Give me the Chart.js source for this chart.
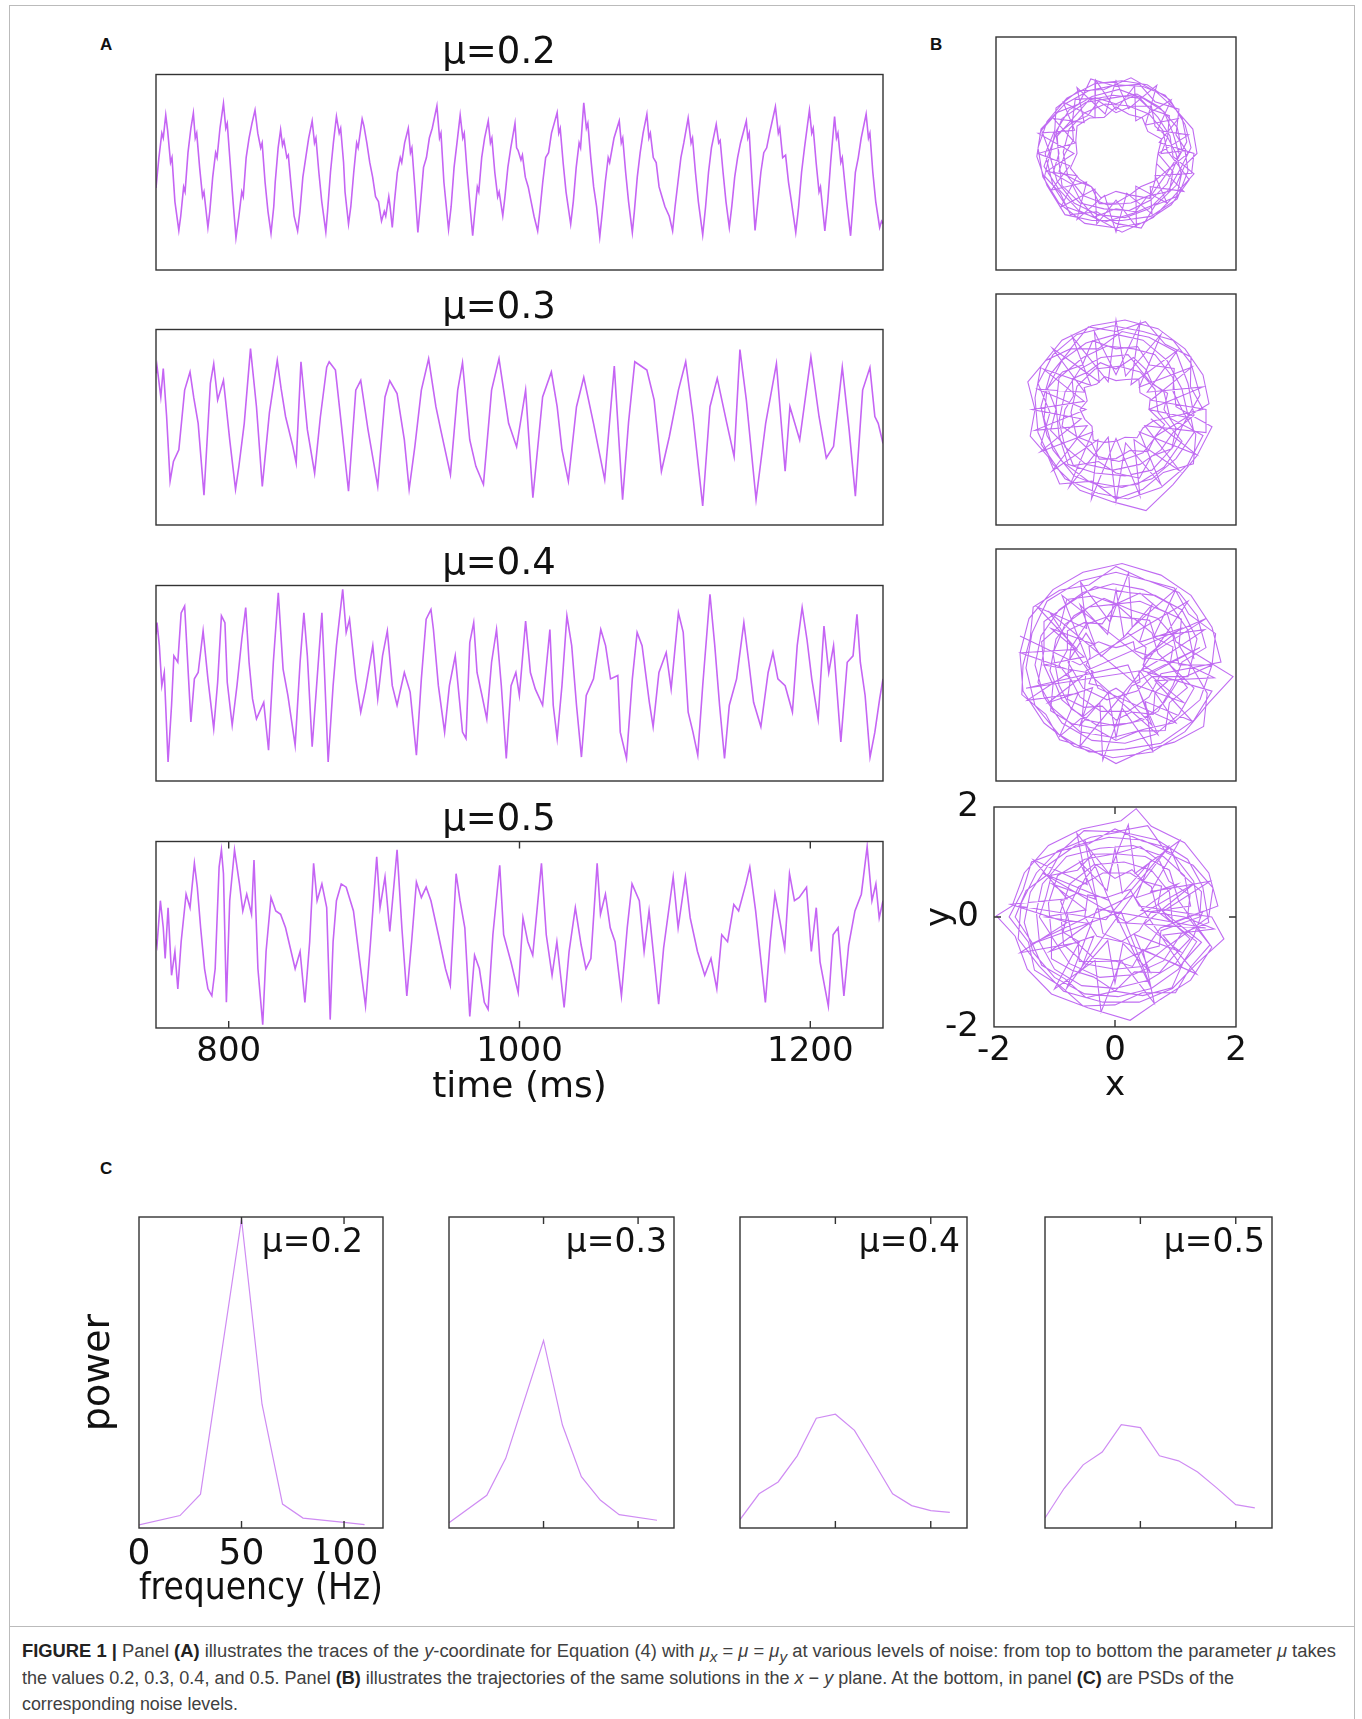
<!DOCTYPE html>
<html>
<head>
<meta charset="utf-8">
<title>Figure 1</title>
<style>
  html, body { margin: 0; padding: 0; background: #fff; }
  body { width: 1362px; height: 1719px; position: relative; overflow: hidden; }
  canvas { position: absolute; }
  .frame { position: absolute; left: 9px; top: 5px; width: 1346px; height: 1760px; border: 1px solid #bbb; box-sizing: border-box; }
  .sep { position: absolute; left: 9px; top: 1626px; width: 1346px; border-top: 1px solid #bbb; }
  .panel { position: absolute; font: bold 17px "Liberation Sans", Arial, sans-serif; color: #111; line-height: 1; }
  .cap { position: absolute; left: 22px; font: 18px "Liberation Sans Narrow", "Liberation Sans", sans-serif; color: #404040; white-space: nowrap; transform-origin: 0 50%; line-height: 1; }
  .cap b { color: #222; }
</style>
</head>
<body>
<div class="frame"></div>
<div class="sep"></div>
<div class="panel" style="left:100px;top:36px">A</div>
<div class="panel" style="left:930px;top:36px">B</div>
<div class="panel" style="left:100px;top:1160px">C</div>

<div class="cap" data-w="1314" style="top:1642px"><b>FIGURE 1 |</b> Panel <b>(A)</b> illustrates the traces of the <i>y</i>-coordinate for Equation (4) with <i>μ<sub>x</sub></i> = <i>μ</i> = <i>μ<sub>y</sub></i> at various levels of noise: from top to bottom the parameter <i>μ</i> takes</div>
<div class="cap" data-w="1212" style="top:1669px">the values 0.2, 0.3, 0.4, and 0.5. Panel <b>(B)</b> illustrates the trajectories of the same solutions in the <i>x</i> − <i>y</i> plane. At the bottom, in panel <b>(C)</b> are PSDs of the</div>
<div class="cap" data-w="216" style="top:1695px">corresponding noise levels.</div>

<script src="https://cdn.jsdelivr.net/npm/chart.js"></script>
<script>
// niveles de ruido
const noiseLabels = ['μ=0.2', 'μ=0.3', 'μ=0.4', 'μ=0.5'];
const timeTicks = [800, 1000, 1200];
const planeTicks = [-2, 0, 2];
const freqTicks = [0, 50, 100];

// panel A: coordenada y frente al tiempo (ms), [t, y]
const trace02 = [[750,-0.32],[752,0.3],[754,0.8],[755,0.7],[756.7,1.17],[758,0.85],[760,0.2],[761,0.3],[763,-0.6],[765.7,-1.19],[767,-0.9],[769,-0.3],[770,-0.4],[772,0.4],[774,0.9],[775.7,1.21],[777,0.7],[778,0.8],[780,0.1],[782,-0.5],[783,-0.4],[785.7,-1.13],[787,-0.8],[789,-0.1],[791,0.4],[792,0.3],[794,0.9],[796.4,1.41],[798,0.9],[799,1.0],[801,0.2],[803,-0.6],[805,-1.34],[807,-0.9],[809,-0.4],[810,-0.5],[812,0.3],[814,0.7],[816,1.0],[818.1,1.27],[820,0.8],[822,0.5],[823,0.6],[825,-0.2],[827,-0.8],[829.1,-1.25],[831,-0.7],[832,-0.2],[834,0.5],[835.7,0.87],[837,0.55],[838,0.65],[840,0.3],[841,0.35],[843,-0.3],[845,-0.9],[847.4,-1.2],[849,-0.8],[851,-0.1],[853,0.3],[855,0.7],[857.4,1.05],[859,0.6],[860,0.7],[862,0.0],[864,-0.6],[866.8,-1.22],[868,-0.8],[870,0.0],[872,0.6],[874.1,1.14],[876,0.8],[877,0.9],[879,0.2],[880,-0.4],[882.4,-1.06],[884,-0.7],[886,0.0],[888,0.6],[889,0.5],[891.8,1.09],[893,0.95],[895,0.6],[897,0.2],[899,-0.1],[901,-0.5],[903,-0.6],[905.1,-1.0],[907,-0.8],[908,-0.9],[910.1,-0.5],[911,-0.7],[912.5,-1.13],[914,-0.6],[916,0.0],[918,0.3],[919,0.2],[921,0.6],[923.5,0.9],[925,0.4],[926,0.5],[928,-0.3],[930.1,-1.23],[932,-0.6],[934,0.1],[936,0.3],[938,0.7],[940,0.9],[943.2,1.36],[945,0.7],[946,0.8],[948,-0.2],[951.2,-1.17],[953,-0.7],[955,0.1],[957,0.6],[959.2,1.17],[961,0.7],[962,0.8],[964,0.0],[966,-0.7],[967.8,-1.3],[969,-0.9],[971,-0.3],[972,-0.4],[974,0.3],[976,0.7],[978.5,1.05],[980,0.6],[981,0.7],[983,0.0],[985,-0.5],[986,-0.4],[988.5,-0.89],[990,-0.5],[992,0.1],[994,0.5],[996.9,1.0],[998,0.5],[999,0.45],[1001,0.25],[1002,0.35],[1004,-0.1],[1006,-0.3],[1008,-0.6],[1010,-0.9],[1012.5,-1.2],[1014,-0.8],[1016,-0.2],[1018,0.3],[1020,0.4],[1022,0.8],[1025.9,1.22],[1027,0.8],[1028,0.9],[1030,0.2],[1032,-0.4],[1035.2,-1.06],[1037,-0.6],[1039,0.1],[1041,0.6],[1042,0.5],[1044.2,1.42],[1046,0.9],[1047,1.0],[1049,0.3],[1051,-0.3],[1053,-0.7],[1055.2,-1.32],[1057,-0.8],[1059,-0.2],[1061,0.3],[1062,0.2],[1065,0.7],[1068.6,1.05],[1070,0.6],[1071,0.7],[1073,0.0],[1075,-0.6],[1077.6,-1.23],[1079,-0.8],[1081,-0.1],[1083,0.4],[1085,0.8],[1087.6,1.19],[1089,0.7],[1090,0.8],[1092,0.3],[1094,0.2],[1096,-0.3],[1098,-0.5],[1100,-0.7],[1103,-0.9],[1105.3,-1.2],[1107,-0.7],[1109,-0.2],[1111,0.3],[1113,0.6],[1116,1.11],[1118,0.6],[1119,0.7],[1121,0.0],[1123,-0.6],[1126,-1.28],[1128,-0.7],[1130,0.0],[1132,0.5],[1135.3,0.98],[1137,0.6],[1138,0.65],[1140,0.0],[1142,-0.6],[1144.3,-1.13],[1146,-0.7],[1148,-0.1],[1150,0.3],[1152,0.6],[1156,1.05],[1157,0.7],[1158,0.8],[1160,-0.2],[1162,-1.19],[1164,-0.6],[1166,0.0],[1168,0.4],[1170,0.5],[1172,0.8],[1176,1.34],[1178,0.8],[1179,0.9],[1181,0.3],[1183,0.35],[1185,-0.2],[1187,-0.6],[1190,-1.23],[1192,-0.7],[1194,0.0],[1196,0.5],[1199.4,1.27],[1201,0.8],[1202,0.9],[1204,0.2],[1206,-0.4],[1207,-0.3],[1210,-1.2],[1212,-0.6],[1214,0.2],[1216.7,1.14],[1218,0.7],[1219,0.8],[1221,0.2],[1222,0.3],[1225,-0.6],[1227.7,-1.3],[1229,-0.8],[1231,0.0],[1233,0.3],[1235,0.7],[1238.4,1.19],[1240,0.7],[1241,0.8],[1243,0.0],[1245,-0.6],[1247.7,-1.13],[1249,-1.0],[1250,-1.05]];

const trace03 = [[750,1.1],[750.7,1.25],[753.3,0.62],[755,1.2],[757.3,0.22],[759.7,-1.1],[762,-0.7],[765.7,-0.46],[769.7,0.76],[773.4,1.13],[776,0.6],[779,0.08],[783,-1.39],[787.4,0.9],[789.7,1.3],[792.4,0.56],[796.4,0.96],[800.7,-0.26],[804.7,-1.27],[807,-0.8],[810.7,0.08],[815,1.61],[819.1,0.42],[823.1,-1.21],[828,0.3],[833.4,1.37],[836,0.8],[839.1,0.22],[844.1,-0.39],[846.4,-0.73],[849.7,1.34],[854.1,-0.05],[859.1,-0.94],[863,0.2],[867.4,1.23],[869.1,1.34],[873.4,1.17],[877.4,0.08],[882.4,-1.31],[887.4,0.76],[890.8,0.96],[895.8,-0.05],[902.5,-1.21],[907.5,0.62],[910.8,0.95],[915.8,0.69],[920.8,-0.26],[924.1,-1.27],[928,-0.4],[932.5,0.76],[937.5,1.4],[942.5,0.42],[945.8,-0.05],[952.5,-0.97],[957.5,0.76],[960.8,1.32],[965.8,-0.26],[970,-0.8],[975.2,-1.17],[980.8,0.76],[985.9,1.4],[992.5,0.08],[998,-0.4],[1004.2,0.76],[1009.2,-1.44],[1015.9,0.62],[1021.9,1.13],[1025.9,0.42],[1029.2,-0.46],[1033.6,-1.1],[1039.2,0.42],[1044.2,1.02],[1050.9,0.08],[1058.6,-1.07],[1065.2,1.25],[1070.9,-1.48],[1075,0.1],[1079.3,1.34],[1087.6,1.17],[1092.6,0.56],[1097.6,-0.9],[1103,-0.2],[1109.3,0.76],[1114.3,1.34],[1119.3,0.22],[1126,-1.61],[1131,0.42],[1136,1.0],[1142.6,0.08],[1147.6,-0.6],[1151.6,1.59],[1156,0.56],[1162.7,-1.48],[1169.3,0.08],[1176.7,1.3],[1182.7,-0.9],[1186,0.42],[1192.7,-0.26],[1200.4,1.44],[1206,0.22],[1211,-0.63],[1216,-0.39],[1222,1.23],[1226.7,-0.05],[1231,-1.41],[1236,0.76],[1241,1.22],[1244.4,0.22],[1246.7,0.08],[1250,-0.33]];

const trace04 = [[750,1.0],[750.7,1.24],[752.3,0.77],[754.0,-0.05],[755.7,0.22],[758.3,-1.61],[760.7,-0.45],[762.3,0.56],[765.0,0.43],[767.3,1.44],[769.7,1.58],[772.4,0.09],[774.0,-0.79],[776.4,0.09],[779.0,0.22],[782.4,1.07],[785.7,0.09],[789.7,-0.93],[792.4,0.02],[795.0,1.38],[797.4,1.24],[799.0,0.02],[802.4,-0.86],[805.7,-0.05],[809.0,0.90],[811.7,1.55],[814.0,0.43],[816.4,-0.32],[819.1,-0.73],[824.1,-0.39],[827.4,-1.37],[830.7,0.43],[834.1,1.85],[837.4,0.29],[840.7,-0.25],[845.7,-1.27],[849.1,0.43],[851.7,1.44],[854.1,0.56],[857.4,-1.30],[860.8,0.09],[864.1,1.44],[865.8,0.29],[868.4,-1.61],[871.8,-0.05],[874.1,0.77],[878.4,1.92],[880.8,1.04],[883.1,1.31],[887.4,0.09],[890.8,-0.59],[894.1,-0.12],[899.1,0.77],[902.5,-0.32],[905.8,0.56],[909.1,1.07],[912.5,-0.05],[915.8,-0.45],[920.8,0.22],[924.8,-0.18],[929.1,-1.47],[932.5,0.09],[935.8,1.31],[939.1,1.51],[940.8,1.10],[944.2,-0.05],[948.5,-1.00],[951.8,-0.05],[955.8,0.56],[960.8,-1.00],[963.2,-1.13],[965.8,0.83],[968.5,1.24],[970.8,0.22],[974.2,-0.25],[977.5,-0.73],[980.8,0.43],[984.2,1.10],[987.5,-0.05],[990.9,-1.54],[994.2,-0.05],[997.5,0.22],[999.9,-0.25],[1004.2,1.27],[1007.5,0.22],[1010.9,-0.12],[1015.9,-0.45],[1020.9,1.10],[1023.2,-0.45],[1025.9,-1.13],[1029.2,-0.05],[1032.6,1.38],[1035.9,0.77],[1039.2,-0.45],[1042.6,-1.51],[1045.9,-0.25],[1050.9,0.09],[1055.9,1.10],[1059.2,0.77],[1062.6,0.09],[1067.6,0.16],[1069.3,-1.00],[1073.6,-1.54],[1077.6,0.09],[1080.9,1.04],[1084.3,0.77],[1089.3,-0.39],[1091.9,-0.89],[1095.9,0.22],[1100.9,0.63],[1104.3,-0.12],[1109.3,1.44],[1112.6,1.04],[1116.0,-0.59],[1119.3,-1.00],[1122.6,-1.47],[1126.0,-0.05],[1131.0,1.82],[1134.3,0.77],[1137.6,-0.45],[1141.0,-1.54],[1144.3,-0.45],[1149.3,0.09],[1154.3,1.24],[1157.7,0.43],[1161.0,-0.39],[1166.0,-0.89],[1171.0,0.22],[1174.3,0.63],[1177.7,0.09],[1182.7,-0.05],[1187.7,-0.59],[1191.0,0.77],[1194.4,1.55],[1197.7,0.90],[1201.0,0.09],[1205.4,-0.73],[1209.4,1.17],[1212.7,0.22],[1216.0,0.77],[1221.0,-1.20],[1225.4,0.43],[1229.4,0.56],[1232.1,1.41],[1234.4,0.43],[1237.7,-0.25],[1241.1,-1.51],[1244.4,-1.00],[1247.7,-0.32],[1250,0.09]];

const trace05 = [[750,-0.1],[750.7,-0.22],[753.0,0.73],[755.0,0.15],[756.3,-0.51],[758.3,0.58],[760.7,-0.87],[763.0,-0.36],[765.0,-1.16],[767.3,-0.15],[770.7,0.87],[773.4,0.58],[776.4,1.53],[778.4,1.02],[780.7,0.15],[783.4,-0.73],[785.7,-1.16],[788.4,-1.31],[790.7,-0.73],[793.4,1.45],[795.0,1.82],[796.4,1.31],[798.4,-1.45],[800.7,0.73],[804.0,1.82],[807.4,1.09],[809.7,0.51],[812.4,0.87],[815.7,0.44],[817.4,1.60],[820.1,-0.73],[823.4,-1.93],[825.7,-0.36],[829.1,0.80],[832.4,0.51],[835.7,0.44],[839.1,0.15],[842.4,-0.29],[845.7,-0.73],[849.1,-0.36],[852.4,-1.45],[855.7,-0.15],[858.4,1.53],[860.8,0.73],[864.1,1.09],[867.4,0.58],[869.8,-1.82],[871.8,-0.15],[874.1,0.73],[877.4,1.09],[880.8,1.02],[885.8,0.51],[890.8,-0.73],[894.1,-1.53],[897.4,-0.22],[901.8,1.67],[904.1,0.58],[907.5,1.24],[910.8,0.07],[915.8,1.82],[919.1,0.15],[922.5,-1.31],[925.8,-0.15],[929.1,1.13],[932.5,0.80],[935.8,1.02],[939.1,0.73],[944.2,0.00],[949.1,-0.73],[952.4,-1.09],[956.4,1.31],[959.1,0.73],[962.4,0.15],[965.8,-1.75],[969.1,-0.44],[972.4,-0.73],[975.8,-1.45],[978.4,-1.60],[981.7,0.00],[986.4,1.49],[989.1,0.00],[994.1,-0.58],[999.1,-1.24],[1002.4,0.36],[1005.7,-0.15],[1009.1,-0.44],[1015.1,1.53],[1018.4,0.00],[1022.4,-0.87],[1025.7,-0.15],[1030.7,-1.56],[1034.1,-0.36],[1038.4,0.58],[1042.4,-0.22],[1045.7,-0.73],[1049.1,-0.51],[1053.4,1.53],[1055.7,0.44],[1059.1,0.87],[1062.4,0.15],[1065.7,-0.15],[1070.1,-1.31],[1074.1,0.15],[1077.4,1.09],[1082.4,0.73],[1085.7,-0.36],[1089.1,0.51],[1095.7,-1.49],[1099.1,-0.29],[1105.7,1.24],[1109.1,0.15],[1114.1,1.24],[1117.4,0.36],[1122.4,-0.36],[1127.4,-0.87],[1131.7,-0.51],[1135.7,-1.16],[1139.1,0.00],[1143.1,-0.15],[1147.4,0.65],[1150.7,0.51],[1155.7,1.09],[1158.4,1.45],[1162.4,0.51],[1169.1,-1.45],[1172.4,-0.15],[1175.7,0.87],[1179.1,0.29],[1182.4,-0.29],[1185.7,1.31],[1189.1,0.73],[1192.4,0.80],[1197.4,1.02],[1200.7,-0.36],[1204.1,0.58],[1206.7,-0.58],[1212.4,-1.53],[1215.7,0.00],[1219.1,0.15],[1223.1,-1.31],[1226.4,-0.22],[1230.7,0.51],[1235.1,0.87],[1239.1,1.89],[1242.4,0.73],[1245.1,1.09],[1247.4,0.36],[1250,0.73]];

// panel B: trayectorias en el plano x-y, [x, y]
const orbit02 = [[1.05,0.00],[0.95,0.35],[0.80,0.72],[0.45,0.95],[0.05,1.10],[-0.40,0.98],[-0.78,0.75],[-1.02,0.35],[-1.10,-0.05],[-0.98,-0.48],[-0.70,-0.85],[-0.30,-1.05],[0.15,-1.10],[0.55,-0.95],[0.88,-0.62],[1.08,-0.25],
  [1.25,0.10],[1.15,0.50],[0.90,0.92],[0.52,1.18],[0.10,1.25],[-0.35,1.20],[-0.82,0.95],[-1.15,0.55],[-1.30,0.10],[-1.22,-0.40],[-0.95,-0.85],[-0.52,-1.20],[0.00,-1.28],[0.48,-1.18],[0.92,-0.88],[1.22,-0.45],
  [0.85,0.05],[0.78,0.40],[0.55,0.68],[0.20,0.82],[-0.18,0.85],[-0.52,0.70],[-0.78,0.42],[-0.88,0.02],[-0.80,-0.40],[-0.55,-0.72],[-0.15,-0.88],[0.25,-0.85],[0.60,-0.70],[0.82,-0.38],
  [1.10,0.05],[1.02,0.45],[0.72,0.80],[0.35,1.02],[-0.08,0.95],[-0.50,0.88],[-0.90,0.60],[-1.05,0.20],[-1.20,-0.22],[-0.95,-0.62],[-0.62,-0.98],[-0.20,-1.18],[0.30,-1.02],[0.70,-0.85],[1.00,-0.55],[1.15,-0.20],
  [1.35,0.00],[1.28,0.42],[1.00,0.75],[0.68,1.05],[0.25,1.30],[-0.20,1.10],[-0.62,1.08],[-1.00,0.78],[-1.02,0.40],[-1.18,0.00],[-1.05,-0.55],[-0.82,-0.92],[-0.35,-1.10],[0.10,-1.35],[0.62,-1.10],[0.95,-0.75],[1.30,-0.35],
  [0.95,-0.05],[0.90,0.30],[0.70,0.62],[0.40,0.95],[-0.05,1.00],[-0.45,0.92],[-0.72,0.60],[-0.98,0.30],[-0.95,-0.15],[-0.90,-0.55],[-0.60,-0.85],[-0.20,-0.95],[0.22,-0.98],[0.58,-0.80],[0.85,-0.52],[1.00,-0.15],
  [1.18,0.20],[1.10,0.62],[0.82,1.00],[0.45,1.15],[0.02,1.18],[-0.45,1.08],[-0.85,0.85],[-1.25,0.42],[-1.32,-0.05],[-1.15,-0.55],[-0.85,-1.05],[-0.40,-1.15],[0.10,-1.15],[0.58,-1.08],[1.02,-0.78],[1.20,-0.30],[1.15,0.05],
  [0.75,0],[0.86,0.28],[0.65,0.47],[0.59,0.81],[0.26,0.81],[0,0.70],[-0.29,0.90],[-0.47,0.65],[-0.73,0.53],[-0.71,0.23],[-0.85,0],[-0.95,-0.31],[-0.65,-0.47],[-0.41,-0.57],[-0.28,-0.86],[0,-0.85],[0.23,-0.71],[0.56,-0.77],[0.65,-0.47],[0.86,-0.28],
  [1.2,0],[1.0,0.32],[1.05,0.76],[0.65,0.89],[0.39,1.19],[0,1.15],[-0.42,1.28],[-0.62,0.85],[-0.97,0.71],[-1.24,0.40],[-1.1,0],[-1.19,-0.39],[-0.93,-0.68],[-0.76,-1.05],[-0.32,-1.0],[0,-1.2],[0.42,-1.28],[0.65,-0.89],[1.01,-0.74],[1.09,-0.36],
  [1.0,0],[0.86,0.28],[0.89,0.65],[0.56,0.77],[0.32,1.0],[0,0.85],[-0.31,0.95],[-0.68,0.93],[-0.73,0.53],[-1.0,0.32],[-0.95,0],[-1.05,-0.34],[-0.73,-0.53],[-0.59,-0.81],[-0.36,-1.09],[0,-0.95],[0.32,-1.0],[0.53,-0.73],[0.89,-0.65],[0.95,-0.31],
  [0.7,0],[0.76,0.25],[0.53,0.38],[0.44,0.61],[0.22,0.67],[0,0.8],[-0.2,0.62],[-0.44,0.61],[-0.65,0.47],[-0.67,0.22],[-0.65,0],[-0.76,-0.25],[-0.61,-0.44],[-0.41,-0.57],[-0.25,-0.76],[0,-0.65],[0.23,-0.71],[0.41,-0.57],[0.65,-0.47],[0.67,-0.22],
  [0.70,0],[1.21,0.32],[0.69,0.40],[0.92,0.92],[0.33,0.56],[0.31,1.16],[0,0.75],[-0.34,1.26],[-0.35,0.61],[-0.88,0.88],[-0.69,0.40],[-1.30,0.35],[-0.70,0],[-1.16,-0.31],[-0.65,-0.38],[-0.92,-0.92],[-0.35,-0.61],[-0.32,-1.21],[0,-0.8],[0.34,-1.26],[0.33,-0.56],[0.85,-0.85],[0.65,-0.38],[1.26,-0.34],
  [1.3,0],[0.72,0.19],[1.04,0.60],[0.49,0.49],[0.68,1.17],[0.21,0.77],[0,1.25],[-0.18,0.68],[-0.65,1.13],[-0.53,0.53],[-1.04,0.60],[-0.68,0.18],[-1.3,0],[-0.77,-0.21],[-1.08,-0.63],[-0.49,-0.49],[-0.65,-1.13],[-0.19,-0.72],[0,-1.35],[0.18,-0.68],[0.60,-1.04],[0.57,-0.57],[1.13,-0.65],[0.68,-0.18]];

const orbit03 = [[1.20,-0.10],[1.10,0.35],[0.85,0.85],[0.45,1.20],[0.00,1.30],[-0.50,1.15],[-0.90,0.85],[-1.15,0.35],[-1.20,-0.15],[-1.05,-0.70],[-0.70,-1.15],[-0.20,-1.35],[0.35,-1.30],[0.80,-1.00],[1.10,-0.55],
  [0.70,-0.05],[0.65,0.35],[0.40,0.65],[0.05,0.75],[-0.35,0.70],[-0.65,0.40],[-0.75,-0.05],[-0.65,-0.50],[-0.35,-0.80],[0.05,-0.90],[0.45,-0.75],[0.68,-0.45],
  [1.55,0.10],[1.45,0.60],[1.15,1.05],[0.70,1.40],[0.15,1.55],[-0.40,1.45],[-0.90,1.20],[-1.25,0.75],[-1.35,0.20],[-1.30,-0.40],[-1.05,-0.95],[-0.60,-1.40],[-0.05,-1.60],[0.50,-1.75],[0.95,-1.30],[1.35,-0.80],[1.60,-0.30],
  [1.00,0.05],[0.95,0.55],[0.65,0.95],[0.30,1.05],[-0.15,1.10],[-0.55,0.90],[-0.95,0.55],[-1.00,0.05],[-0.95,-0.45],[-0.80,-0.95],[-0.35,-1.10],[0.15,-1.15],[0.60,-1.05],[0.95,-0.65],[1.10,-0.30],
  [1.40,0.25],[1.25,0.80],[0.95,1.20],[0.45,1.35],[-0.05,1.45],[-0.65,1.30],[-1.05,0.95],[-1.30,0.45],[-1.10,-0.05],[-1.25,-0.60],[-0.85,-1.20],[-0.30,-1.45],[0.20,-1.55],[0.75,-1.35],[1.20,-0.95],[1.45,-0.45],
  [0.90,-0.15],[0.80,0.30],[0.55,0.50],[0.20,0.95],[-0.25,0.90],[-0.60,0.70],[-0.85,0.30],[-0.95,-0.20],[-0.85,-0.65],[-0.50,-0.95],[-0.05,-1.05],[0.40,-0.95],[0.75,-0.70],[0.95,-0.40],
  [1.30,-0.10],[1.20,0.45],[1.00,1.00],[0.55,1.25],[0.10,1.35],[-0.30,1.05],[-0.75,1.05],[-1.10,0.60],[-1.25,0.05],[-1.15,-0.45],[-0.90,-0.90],[-0.45,-1.25],[0.10,-1.35],[0.60,-1.20],[1.00,-0.85],[1.30,-0.40],[1.25,-0.15],
  [0.55,0],[0.57,0.19],[0.40,0.29],[0.38,0.53],[0.17,0.52],[0,0.5],[-0.19,0.57],[-0.32,0.44],[-0.53,0.38],[-0.48,0.15],[-0.6,0],[-0.52,-0.17],[-0.40,-0.29],[-0.38,-0.53],[-0.19,-0.57],[0,-0.55],[0.15,-0.48],[0.35,-0.49],[0.45,-0.32],[0.62,-0.20],
  [1.45,0],[1.24,0.40],[1.25,0.91],[0.82,1.13],[0.49,1.52],[0,1.35],[-0.46,1.43],[-0.76,1.05],[-1.17,0.85],[-1.47,0.48],[-1.35,0],[-1.43,-0.46],[-1.13,-0.82],[-0.94,-1.29],[-0.40,-1.24],[0,-1.55],[0.45,-1.38],[0.79,-1.09],[1.29,-0.94],[1.33,-0.43],
  [1.1,0],[0.95,0.31],[0.97,0.71],[0.56,0.77],[0.36,1.09],[0,1.05],[-0.39,1.19],[-0.56,0.77],[-0.89,0.65],[-1.14,0.37],[-1.0,0],[-1.09,-0.36],[-0.85,-0.62],[-0.71,-0.97],[-0.29,-0.90],[0,-1.1],[0.39,-1.19],[0.59,-0.81],[0.93,-0.68],[1.0,-0.32],
  [0.8,0],[0.86,0.28],[0.61,0.44],[0.50,0.69],[0.29,0.90],[0,0.7],[-0.26,0.81],[-0.47,0.65],[-0.73,0.53],[-0.71,0.23],[-0.85,0],[-0.90,-0.29],[-0.65,-0.47],[-0.41,-0.57],[-0.28,-0.86],[0,-0.85],[0.23,-0.71],[0.53,-0.73],[0.65,-0.47],[0.81,-0.26],
  [0.55,0],[1.45,0.39],[0.52,0.30],[1.03,1.03],[0.25,0.43],[0.40,1.50],[0,0.6],[-0.36,1.35],[-0.28,0.48],[-1.06,1.06],[-0.52,0.30],[-1.30,0.35],[-0.5,0],[-1.35,-0.36],[-0.48,-0.28],[-1.06,-1.06],[-0.30,-0.52],[-0.41,-1.55],[0,-0.5],[0.40,-1.50],[0.30,-0.52],[1.06,-1.06],[0.48,-0.28],[1.50,-0.40],
  [1.5,0],[0.58,0.16],[1.26,0.73],[0.39,0.39],[0.75,1.30],[0.16,0.58],[0,1.55],[-0.13,0.48],[-0.73,1.26],[-0.42,0.42],[-1.21,0.70],[-0.53,0.14],[-1.4,0],[-0.58,-0.16],[-1.26,-0.73],[-0.39,-0.39],[-0.78,-1.34],[-0.13,-0.48],[0,-1.6],[0.16,-0.58],[0.75,-1.30],[0.39,-0.39],[1.34,-0.78],[0.58,-0.16]];

const orbit04 = [[1.30,0.10],[1.20,0.60],[0.90,1.05],[0.45,1.30],[-0.05,1.40],[-0.55,1.25],[-0.95,0.95],[-1.25,0.50],[-1.35,0.00],[-1.20,-0.55],[-0.90,-1.00],[-0.40,-1.30],[0.15,-1.35],[0.65,-1.20],[1.05,-0.85],[1.30,-0.40],
  [0.70,0.20],[0.60,0.55],[0.30,0.80],[-0.10,0.85],[-0.50,0.70],[-0.75,0.30],[-0.80,-0.15],[-0.60,-0.55],[-0.25,-0.80],[0.20,-0.80],[0.55,-0.55],[0.75,-0.15],
  [1.75,0.05],[1.60,0.65],[1.25,1.20],[0.75,1.55],[0.10,1.75],[-0.55,1.60],[-1.05,1.30],[-1.45,0.80],[-1.60,0.20],[-1.55,-0.45],[-1.20,-1.00],[-0.70,-1.40],[-0.05,-1.60],[0.60,-1.50],[1.15,-1.15],[1.55,-0.65],[1.95,-0.20],
  [1.00,0.40],[0.85,0.90],[0.40,1.10],[0.00,1.05],[-0.45,1.00],[-0.85,0.70],[-1.05,0.20],[-0.95,-0.35],[-0.75,-0.75],[-0.30,-1.05],[0.25,-1.00],[0.70,-0.80],[0.95,-0.35],[1.10,0.05],
  [1.50,0.30],[1.35,0.85],[1.05,1.25],[0.55,1.45],[0.00,1.60],[-0.60,1.45],[-1.15,1.10],[-1.40,0.55],[-1.50,-0.05],[-1.35,-0.70],[-0.95,-1.20],[-0.45,-1.50],[0.15,-1.45],[0.75,-1.35],[1.30,-0.95],[1.60,-0.45],
  [0.45,-0.10],[0.50,0.30],[0.20,0.55],[-0.25,0.15],[-0.50,0.55],[-0.80,0.05],[-0.55,-0.40],[-0.15,-0.60],[0.35,-0.45],[0.60,-0.20],
  [1.20,-0.20],[1.35,0.45],[1.10,0.95],[0.65,1.20],[0.20,1.25],[-0.35,1.35],[-0.80,1.05],[-1.20,0.75],[-1.20,0.25],[-1.30,-0.30],[-1.05,-0.75],[-0.60,-1.15],[-0.05,-1.25],[0.50,-1.10],[0.95,-1.00],[1.40,-0.60],[1.60,0.00],
  [1.05,0.00],[0.95,0.50],[0.70,0.80],[0.25,0.95],[-0.20,1.15],[-0.70,0.85],[-1.00,0.45],[-1.10,-0.10],[-0.90,-0.60],[-0.50,-0.95],[0.00,-1.05],[0.45,-0.95],[0.80,-0.65],[1.05,-0.25],
  [1.6,0],[1.66,0.54],[1.21,0.88],[0.97,1.33],[0.48,1.47],[0,1.7],[-0.45,1.38],[-0.94,1.29],[-1.38,1.0],[-1.43,0.46],[-1.55,0],[-1.57,-0.51],[-1.17,-0.85],[-0.94,-1.29],[-0.46,-1.43],[0,-1.7],[0.48,-1.47],[0.97,-1.33],[1.46,-1.06],[1.52,-0.49],
  [1.25,0],[1.05,0.34],[1.09,0.79],[0.71,0.97],[0.40,1.24],[0,1.05],[-0.39,1.19],[-0.82,1.13],[-0.93,0.68],[-1.24,0.40],[-1.2,0],[-1.05,-0.34],[-1.09,-0.79],[-0.74,-1.01],[-0.36,-1.09],[0,-1.3],[0.37,-1.14],[0.82,-1.13],[0.89,-0.65],[1.19,-0.39],
  [0.9,0],[0.95,0.31],[0.65,0.47],[0.56,0.77],[0.26,0.81],[0,1.05],[-0.23,0.71],[-0.53,0.73],[-0.81,0.59],[-0.81,0.26],[-0.95,0],[-0.76,-0.25],[-0.81,-0.59],[-0.53,-0.73],[-0.23,-0.71],[0,-0.95],[0.26,-0.81],[0.62,-0.85],[0.65,-0.47],[0.86,-0.28],
  [0.45,0],[0.52,0.17],[0.32,0.24],[0.29,0.40],[0.11,0.33],[0,0.3],[-0.11,0.33],[-0.29,0.40],[-0.45,0.32],[-0.43,0.14],[-0.5,0],[-0.38,-0.12],[-0.45,-0.32],[-0.26,-0.36],[-0.15,-0.48],[0,-0.4],[0.17,-0.52],[0.26,-0.36],[0.40,-0.29],[0.38,-0.12],
  [0.74,0.10],[1.48,0.61],[0.63,0.49],[1.00,1.31],[0.27,0.65],[0.21,1.59],[-0.10,0.74],[-0.59,1.43],[-0.49,0.63],[-1.31,1.00],[-0.65,0.27],[-1.59,0.21],[-0.74,-0.10],[-1.48,-0.61],[-0.63,-0.49],[-0.94,-1.23],[-0.27,-0.65],[-0.22,-1.64],[0.10,-0.74],[0.61,-1.48],[0.49,-0.63],[1.27,-0.97],[0.65,-0.27],[1.64,-0.22],
  [1.2,0],[0.48,0.13],[1.08,0.63],[0.39,0.39],[0.6,1.04],[0.13,0.48],[0,1.3],[-0.14,0.53],[-0.6,1.04],[-0.35,0.35],[-1.08,0.63],[-0.53,0.14],[-1.2,0],[-0.48,-0.13],[-1.13,-0.65],[-0.39,-0.39],[-0.6,-1.04],[-0.13,-0.48],[0,-1.25],[0.14,-0.53],[0.6,-1.04],[0.35,-0.35],[1.13,-0.65],[0.53,-0.14],
  [1.4,0.3],[0.3,-0.3],[-1.1,0.9],[-0.4,-0.2],[0.7,-1.2],[0.2,0.0],[-1.5,-0.4],[0.4,-0.1],[1.0,-1.0],[-0.3,-0.4],[-0.9,1.2],[0.45,0.1],[1.5,0.8],[-0.5,-0.1],[-0.6,-1.4],[0.35,-0.2],[1.2,1.1],[-0.6,0.0],[-1.6,0.5]];

const orbit05 = [[1.40,0.05],[1.30,0.65],[0.95,1.15],[0.45,1.40],[-0.10,1.45],[-0.65,1.30],[-1.10,0.95],[-1.40,0.45],[-1.50,-0.10],[-1.35,-0.65],[-1.00,-1.10],[-0.50,-1.40],[0.05,-1.45],[0.60,-1.30],[1.05,-0.95],[1.35,-0.45],
  [0.70,0.10],[0.60,0.55],[0.25,0.80],[-0.20,0.80],[-0.60,0.55],[-0.80,0.10],[-0.70,-0.40],[-0.35,-0.75],[0.10,-0.80],[0.50,-0.60],[0.75,-0.20],
  [1.70,0.20],[1.55,0.80],[1.15,1.35],[0.60,1.65],[0.35,1.97],[0.10,1.75],[-0.55,1.60],[-1.10,1.30],[-1.50,0.80],[-1.70,0.20],[-1.96,0.02],[-1.65,-0.35],[-1.45,-0.95],[-1.05,-1.40],[-0.45,-1.65],[0.25,-1.88],[0.75,-1.50],[1.25,-1.15],[1.60,-0.55],
  [1.05,0.30],[0.90,0.85],[0.50,1.10],[0.00,1.15],[-0.50,1.05],[-0.95,0.75],[-1.10,0.25],[-1.05,-0.35],[-0.75,-0.85],[-0.25,-1.10],[0.30,-1.05],[0.80,-0.80],[1.10,-0.30],
  [1.55,-0.10],[1.45,0.55],[1.20,1.05],[0.70,1.40],[0.10,1.55],[-0.40,1.45],[-0.95,1.20],[-1.30,0.80],[-1.55,0.25],[-1.60,-0.40],[-1.25,-0.90],[-0.85,-1.35],[-0.20,-1.55],[0.40,-1.55],[0.95,-1.30],[1.35,-0.85],[1.80,-0.40],[1.60,0.00],
  [0.40,0.20],[0.25,0.50],[-0.15,0.35],[-0.45,0.40],[-0.50,0.00],[-0.30,-0.35],[0.10,-0.45],[0.40,-0.25],[0.60,0.10],
  [1.25,0.20],[1.15,0.75],[0.80,1.10],[0.30,1.30],[-0.25,1.25],[-0.80,1.10],[-1.20,0.60],[-1.30,0.10],[-1.25,-0.45],[-1.00,-0.95],[-0.55,-1.25],[0.00,-1.30],[0.55,-1.15],[1.00,-0.85],[1.30,-0.35],[1.45,0.10],
  [0.95,-0.10],[0.90,0.45],[0.60,0.85],[0.15,1.00],[-0.35,0.95],[-0.75,0.60],[-0.90,0.10],[-0.85,-0.50],[-0.50,-0.85],[0.00,-0.95],[0.45,-0.90],[0.85,-0.55],
  [1.55,0],[1.62,0.53],[1.29,0.94],[0.85,1.17],[0.54,1.66],[0,1.55],[-0.51,1.57],[-0.88,1.21],[-1.38,1.0],[-1.52,0.49],[-1.75,0],[-1.43,-0.46],[-1.33,-0.97],[-0.91,-1.25],[-0.53,-1.62],[0,-1.6],[0.45,-1.38],[1.0,-1.38],[1.25,-0.91],[1.57,-0.51],
  [1.2,0],[1.24,0.40],[0.89,0.65],[0.74,1.01],[0.42,1.28],[0,1.15],[-0.37,1.14],[-0.62,0.85],[-1.05,0.76],[-1.14,0.37],[-1.25,0],[-1.05,-0.34],[-1.05,-0.76],[-0.71,-0.97],[-0.36,-1.09],[0,-1.35],[0.32,-1.0],[0.74,-1.01],[0.97,-0.71],[1.24,-0.40],
  [0.85,0],[0.71,0.23],[0.77,0.56],[0.47,0.65],[0.28,0.86],[0,0.7],[-0.31,0.95],[-0.5,0.69],[-0.61,0.44],[-0.90,0.29],[-0.8,0],[-0.86,-0.28],[-0.61,-0.44],[-0.59,-0.81],[-0.26,-0.81],[0,-0.8],[0.29,-0.90],[0.44,-0.61],[0.73,-0.53],[0.76,-0.25],
  [1.4,0],[1.43,0.46],[1.09,0.79],[0.91,1.25],[0.45,1.38],[0,1.6],[-0.43,1.33],[-0.88,1.21],[-1.09,0.79],[-1.47,0.48],[-1.65,0],[-1.38,-0.45],[-1.21,-0.88],[-0.82,-1.13],[-0.48,-1.47],[0,-1.35],[0.46,-1.43],[0.94,-1.29],[1.13,-0.82],[1.43,-0.46],
  [0.79,0.10],[1.57,0.65],[0.59,0.46],[1.07,1.39],[0.33,0.79],[0.22,1.68],[-0.10,0.79],[-0.63,1.52],[-0.46,0.59],[-1.35,1.04],[-0.79,0.33],[-1.73,0.23],[-0.79,-0.10],[-1.57,-0.65],[-0.59,-0.46],[-1.00,-1.31],[-0.33,-0.79],[-0.23,-1.73],[0.10,-0.79],[0.65,-1.57],[0.46,-0.59],[1.35,-1.04],[0.79,-0.33],[1.64,-0.22],
  [1.15,0],[0.43,0.12],[1.04,0.6],[0.35,0.35],[0.58,1.0],[0.12,0.43],[0,1.25],[-0.13,0.48],[-0.58,1.0],[-0.32,0.32],[-1.04,0.6],[-0.48,0.13],[-1.15,0],[-0.43,-0.12],[-1.08,-0.63],[-0.35,-0.35],[-0.58,-1.0],[-0.12,-0.43],[0,-1.2],[0.13,-0.48],[0.58,-1.0],[0.32,-0.32],[1.08,-0.63],[0.48,-0.13],
  [1.3,0.6],[0.2,-0.1],[-1.2,0.8],[-0.1,0.3],[0.6,-1.3],[0.1,0.1],[-1.4,-0.5],[0.3,0.4],[1.1,-0.9],[-0.2,-0.3],[-0.5,1.4],[0.05,-0.1],[1.5,-0.2],[-0.3,0.15],[-0.8,-1.3],[0.2,0.25],[0.9,1.3],[-0.15,-0.05],[-1.6,0.2]];

// panel C: densidad espectral de potencia (escala relativa)
const psdFreq02 = [0, 20, 30, 50, 60, 70, 80, 100, 110];
const psdPow02 = [0.01, 0.04, 0.109, 0.993, 0.398, 0.077, 0.032, 0.018, 0.011];
const psdFreq03 = [0, 20, 30, 50, 60, 70, 80, 90, 110];
const psdPow03 = [0.017, 0.105, 0.224, 0.603, 0.331, 0.165, 0.09, 0.043, 0.025];
const psdFreq04 = [0, 10, 20, 30, 40, 50, 60, 70, 80, 90, 100, 110];
const psdPow04 = [0.027, 0.11, 0.148, 0.232, 0.353, 0.366, 0.314, 0.213, 0.11, 0.072, 0.056, 0.05];
const psdFreq05 = [0, 10, 20, 30, 40, 50, 60, 70, 80, 90, 100, 110];
const psdPow05 = [0.032, 0.127, 0.203, 0.244, 0.332, 0.323, 0.232, 0.216, 0.18, 0.129, 0.075, 0.065];

const INK = '#111';
const FAMILY = '"DejaVu Sans", sans-serif';
const font = (size, lh) => ({ family: FAMILY, size: size, weight: 'normal', lineHeight: lh || 1 });
const plain = v => String(v);

// recuadro y marcas hacia dentro, estilo gnuplot
const framePlugin = {
  id: 'frame',
  afterDraw(chart, args, opts) {
    const { ctx, chartArea: a, scales } = chart;
    ctx.save();
    ctx.strokeStyle = '#333';
    ctx.lineWidth = 1.4;
    ctx.strokeRect(a.left, a.top, a.right - a.left, a.bottom - a.top);
    ctx.beginPath();
    (opts.xTicks || []).forEach(v => {
      const px = scales.x.getPixelForValue(v);
      ctx.moveTo(px, a.bottom); ctx.lineTo(px, a.bottom - 7);
      ctx.moveTo(px, a.top); ctx.lineTo(px, a.top + 7);
    });
    (opts.yTicks || []).forEach(v => {
      const py = scales.y.getPixelForValue(v);
      ctx.moveTo(a.left, py); ctx.lineTo(a.left + 7, py);
      ctx.moveTo(a.right, py); ctx.lineTo(a.right - 7, py);
    });
    ctx.stroke();
    if (opts.label) {
      ctx.fillStyle = INK;
      ctx.font = '33px ' + FAMILY;
      ctx.textAlign = 'right';
      ctx.textBaseline = 'middle';
      ctx.fillText(opts.label, a.right - opts.inset, a.top + 26);
    }
    ctx.restore();
  }
};

function addCanvas(left, top, width, height) {
  const c = document.createElement('canvas');
  c.width = width; c.height = height;
  c.style.left = left + 'px'; c.style.top = top + 'px';
  c.style.width = width + 'px'; c.style.height = height + 'px';
  document.body.appendChild(c);
  return c;
}

function baseOptions() {
  return {
    responsive: false,
    animation: false,
    devicePixelRatio: 1,
    events: [],
    layout: { padding: 4 },
    plugins: { legend: { display: false }, tooltip: { enabled: false }, frame: {} },
    scales: {}
  };
}

function hiddenAxis(min, max) {
  return { type: 'linear', min: min, max: max, display: false };
}

function lineSet(points, color, width) {
  return { data: points, showLine: true, borderColor: color, borderWidth: width, pointRadius: 0, tension: 0 };
}

// Panel A
const traces = [trace02, trace03, trace04, trace05];
const traceBoxes = [[74, 270], [329, 525], [585, 781], [841, 1025]];
traces.forEach((pts, i) => {
  const [boxTop, boxBottom] = traceBoxes[i];
  const last = i === traces.length - 1;
  const top = boxTop - 43.5;
  const height = (last ? 1111.5 : boxBottom + 4) - top;
  const opts = baseOptions();
  opts.layout = { padding: { left: 4, right: 4, top: 4, bottom: last ? 12 : 4 } };
  opts.plugins.title = { display: true, text: noiseLabels[i], font: font(37), color: INK, padding: { top: 0, bottom: 2.5 } };
  opts.plugins.frame = { xTicks: last ? timeTicks : [] };
  opts.scales.x = {
    type: 'linear', min: 750, max: 1250, display: last,
    grid: { display: false, drawTicks: false }, border: { display: false },
    afterBuildTicks: s => { s.ticks = timeTicks.map(v => ({ value: v })); },
    ticks: { font: font(34), color: INK, padding: 7, maxRotation: 0, callback: plain },
    title: { display: true, text: 'time (ms)', font: font(36, 0.667), color: INK, padding: { top: 0, bottom: 0 } }
  };
  opts.scales.y = {
    type: 'linear', min: -2, max: 2, display: true,
    grid: { display: false, drawTicks: false }, border: { display: false },
    ticks: { display: false },
    afterFit: s => { s.width = 41; }
  };
  new Chart(addCanvas(111, top, 776, height), {
    type: 'scatter',
    data: { datasets: [lineSet(pts, '#c565f4', 1.6)] },
    options: opts,
    plugins: [framePlugin]
  });
});

// Panel B
const orbits = [orbit02, orbit03, orbit04];
const orbitBoxes = [[37, 270], [294, 525], [549, 781]];
orbits.forEach((pts, i) => {
  const [boxTop, boxBottom] = orbitBoxes[i];
  const opts = baseOptions();
  opts.scales.x = hiddenAxis(-2, 2);
  opts.scales.y = hiddenAxis(-2, 2);
  new Chart(addCanvas(992, boxTop - 4, 248, boxBottom - boxTop + 8), {
    type: 'scatter',
    data: { datasets: [lineSet(pts, '#c06cf2', 1.1)] },
    options: opts,
    plugins: [framePlugin]
  });
});

{
  const opts = baseOptions();
  opts.layout = { padding: { left: 9, right: 26, top: 20, bottom: 12 } };
  opts.plugins.frame = { xTicks: [0], yTicks: [0] };
  opts.scales.x = {
    type: 'linear', min: -2, max: 2,
    grid: { display: false, drawTicks: false }, border: { display: false },
    afterBuildTicks: s => { s.ticks = planeTicks.map(v => ({ value: v })); },
    ticks: { font: font(34), color: INK, padding: 7, maxRotation: 0, callback: plain },
    title: { display: true, text: 'x', font: font(34, 0.65), color: INK, padding: { top: 0, bottom: 0 } }
  };
  opts.scales.y = {
    type: 'linear', min: -2, max: 2,
    grid: { display: false, drawTicks: false }, border: { display: false },
    afterBuildTicks: s => { s.ticks = planeTicks.map(v => ({ value: v })); },
    ticks: { font: font(34), color: INK, padding: 15, callback: plain },
    title: { display: true, text: 'y', font: font(34, 0.235), color: INK, padding: { top: 0, bottom: 0 } },
    afterFit: s => { s.width = 58; }
  };
  new Chart(addCanvas(927, 775, 335, 334), {
    type: 'scatter',
    data: { datasets: [lineSet(orbit05, '#c06cf2', 1.1)] },
    options: opts,
    plugins: [framePlugin]
  });
}

// Panel C
const psdFreqs = [psdFreq02, psdFreq03, psdFreq04, psdFreq05];
const psdPows = [psdPow02, psdPow03, psdPow04, psdPow05];
const psdBoxes = [[139, 383], [449, 674], [740, 967], [1045, 1272]];
psdPows.forEach((pows, i) => {
  const [boxLeft, boxRight] = psdBoxes[i];
  const first = i === 0;
  const pts = pows.map((p, k) => [psdFreqs[i][k], p]);
  const opts = baseOptions();
  opts.plugins.frame = { xTicks: [50, 100], label: noiseLabels[i], inset: first ? 20 : 7 };
  if (first) {
    opts.layout = { padding: { left: 0, right: 6, top: 6, bottom: 16 } };
    opts.scales.x = {
      type: 'linear', min: 0, max: 119,
      grid: { display: false, drawTicks: false }, border: { display: false },
      afterBuildTicks: s => { s.ticks = freqTicks.map(v => ({ value: v })); },
      ticks: { font: font(36), color: INK, padding: 9, maxRotation: 0, callback: plain },
      title: { display: true, text: 'frequency (Hz)', font: font(38, 0.368), color: INK, padding: { top: 0, bottom: 0 } }
    };
    opts.scales.y = {
      type: 'linear', min: 0, max: 1,
      grid: { display: false, drawTicks: false }, border: { display: false },
      ticks: { display: false },
      title: { display: true, text: 'power', font: font(38), color: INK, padding: { top: 10, bottom: 21 } }
    };
    new Chart(addCanvas(70, 1211, 319, 401), {
      type: 'scatter',
      data: { datasets: [lineSet(pts, '#cf8cf3', 1.2)] },
      options: opts,
      plugins: [framePlugin]
    });
  } else {
    opts.layout = { padding: 6 };
    opts.scales.x = hiddenAxis(0, 119);
    opts.scales.y = hiddenAxis(0, 1);
    new Chart(addCanvas(boxLeft - 6, 1211, boxRight - boxLeft + 12, 323), {
      type: 'scatter',
      data: { datasets: [lineSet(pts, '#cf8cf3', 1.2)] },
      options: opts,
      plugins: [framePlugin]
    });
  }
});

// ajustar el ancho del pie de figura
document.querySelectorAll('.cap').forEach(el => {
  const w = el.getBoundingClientRect().width;
  el.style.transform = 'scaleX(' + (Number(el.dataset.w) / w) + ')';
});
</script>
</body>
</html>
